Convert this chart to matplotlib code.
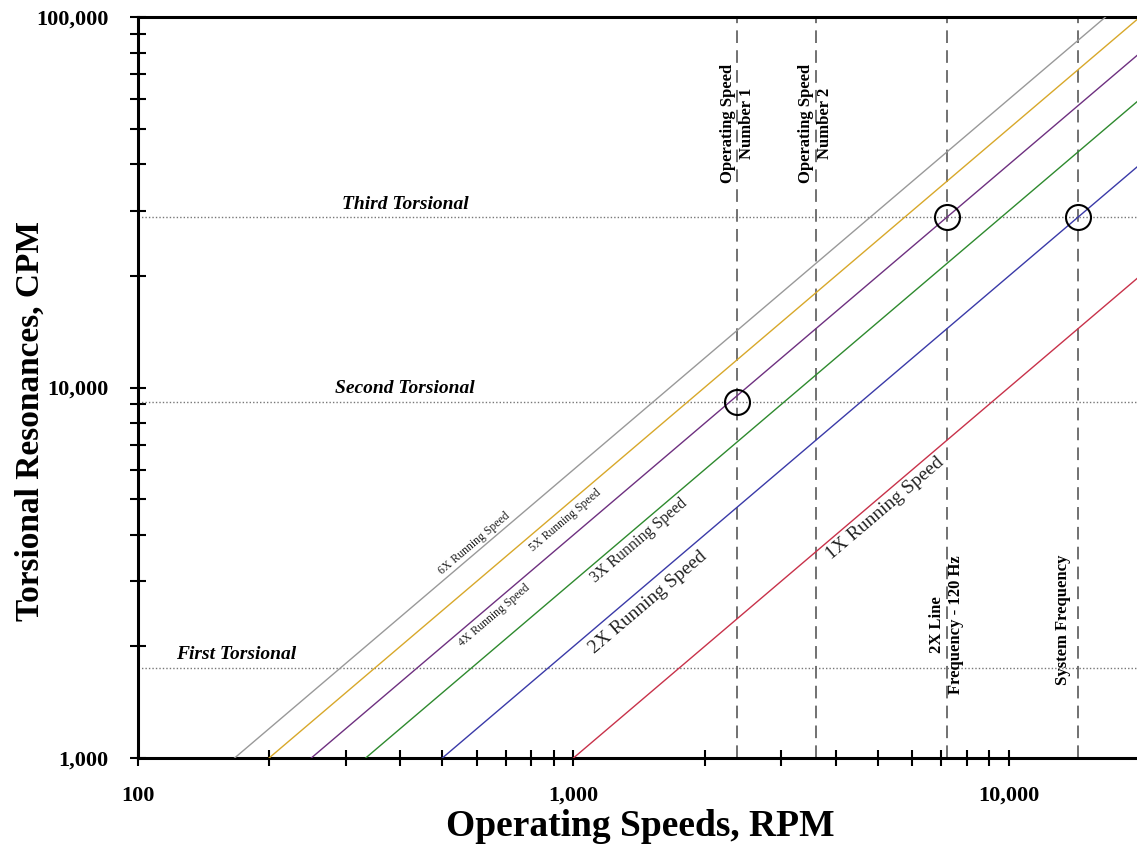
import numpy as np
import matplotlib
matplotlib.use("Agg")
import matplotlib.pyplot as plt
from matplotlib.ticker import FixedLocator, NullFormatter

plt.rcParams['font.family'] = ['Liberation Serif', 'DejaVu Serif']

# running speed orders and their line colours
orders = [1, 2, 3, 4, 5, 6]
order_colors = ['#c8324a', '#3a3aa8', '#2e8a2e', '#6e3080', '#d8a82a', '#999999']
order_labels = ['1X Running Speed', '2X Running Speed', '3X Running Speed',
                '4X Running Speed', '5X Running Speed', '6X Running Speed']

# torsional resonances, CPM
torsional_names = ['First Torsional', 'Second Torsional', 'Third Torsional']
torsional_cpm = [1750, 9150, 28800]

# marked speeds, RPM
speed_names = ['Operating Speed\nNumber 1', 'Operating Speed\nNumber 2',
               '2X Line\nFrequency - 120 Hz', 'System Frequency']
speed_rpm = [2380, 3600, 7200, 14400]

# interference points (rpm, cpm)
hit_rpm = [2380, 7200, 14400]
hit_cpm = [9150, 28800, 28800]

rpm = np.array([100, 20000])

fig = plt.figure(figsize=(11.37, 8.47), dpi=100)
ax = fig.add_axes([138 / 1137, 1 - 758 / 847, 1002 / 1137, 741 / 847])
ax.set_xscale('log')
ax.set_yscale('log')
ax.set_xlim(100, 20000)
ax.set_ylim(1000, 100000)

for n, c in zip(orders, order_colors):
    ax.plot(rpm, n * rpm, color=c, lw=1.0, zorder=3)

for t in torsional_cpm:
    ax.axhline(t, color='#777777', lw=1.0, ls=(0, (1, 1.5)), zorder=2)

for s in speed_rpm:
    ax.axvline(s, color='#666666', lw=1.3, ls=(0, (7, 4)), zorder=2)

ax.plot(hit_rpm, hit_cpm, 'o', ms=18, mfc='none', mec='black', mew=1.5, zorder=5)

# torsional labels
tors_x = [168, 410, 410]
for name, t, x in zip(torsional_names, torsional_cpm, tors_x):
    ax.text(x, t * 1.03, name, fontsize=14, fontweight='bold', style='italic',
            ha='center', va='bottom')

# vertical speed labels
speed_text_x = [2380, 3600, 7200, 13300]
speed_text_y = [51760, 51760, 2286, 2358]
for name, x, y in zip(speed_names, speed_text_x, speed_text_y):
    ax.text(x, y, name, rotation=90, fontsize=12, fontweight='bold',
            ha='center', va='center', multialignment='center', linespacing=1.25)

# running speed labels along the lines
fig.canvas.draw()
p0 = ax.transData.transform((1000, 1000))
p1 = ax.transData.transform((10000, 10000))
ang = np.degrees(np.arctan2(p1[1] - p0[1], p1[0] - p0[0]))
lab_x = [5193, 1483, 1414, 657, 956, 591]
lab_y = [4729, 2637, 3852, 2432, 4389, 3804]
lab_size = [14, 14, 11.5, 8.5, 8.5, 8.5]
for lbl, x, y, fs in zip(order_labels, lab_x, lab_y, lab_size):
    ax.text(x, y, lbl, rotation=ang, fontsize=fs, color='#222222',
            ha='center', va='center', rotation_mode='anchor')

# axes styling
ax.spines['right'].set_visible(False)
for sp in ['left', 'bottom', 'top']:
    ax.spines[sp].set_linewidth(2.2)

ax.xaxis.set_major_locator(FixedLocator([100, 1000, 10000]))
ax.yaxis.set_major_locator(FixedLocator([1000, 10000, 100000]))
ax.set_xticklabels(['100', '1,000', '10,000'])
ax.set_yticklabels(['1,000', '10,000', '100,000'])
ax.xaxis.set_minor_formatter(NullFormatter())
ax.yaxis.set_minor_formatter(NullFormatter())
ax.tick_params(which='both', direction='inout', length=12, width=1.5,
               labelsize=16, top=False, right=False)
ax.tick_params(axis='x', which='major', pad=14)
ax.tick_params(axis='y', which='major', pad=15)
for lab in ax.get_xticklabels() + ax.get_yticklabels():
    lab.set_fontweight('bold')

fig.text(640 / 1137, 1 - 836 / 847, 'Operating Speeds, RPM', fontsize=27,
         fontweight='bold', ha='center', va='baseline')
fig.text(30 / 1137, 1 - 421 / 847, 'Torsional Resonances, CPM', fontsize=24,
         fontweight='bold', ha='center', va='center', rotation=90)

fig.savefig('out.png', dpi=100)
